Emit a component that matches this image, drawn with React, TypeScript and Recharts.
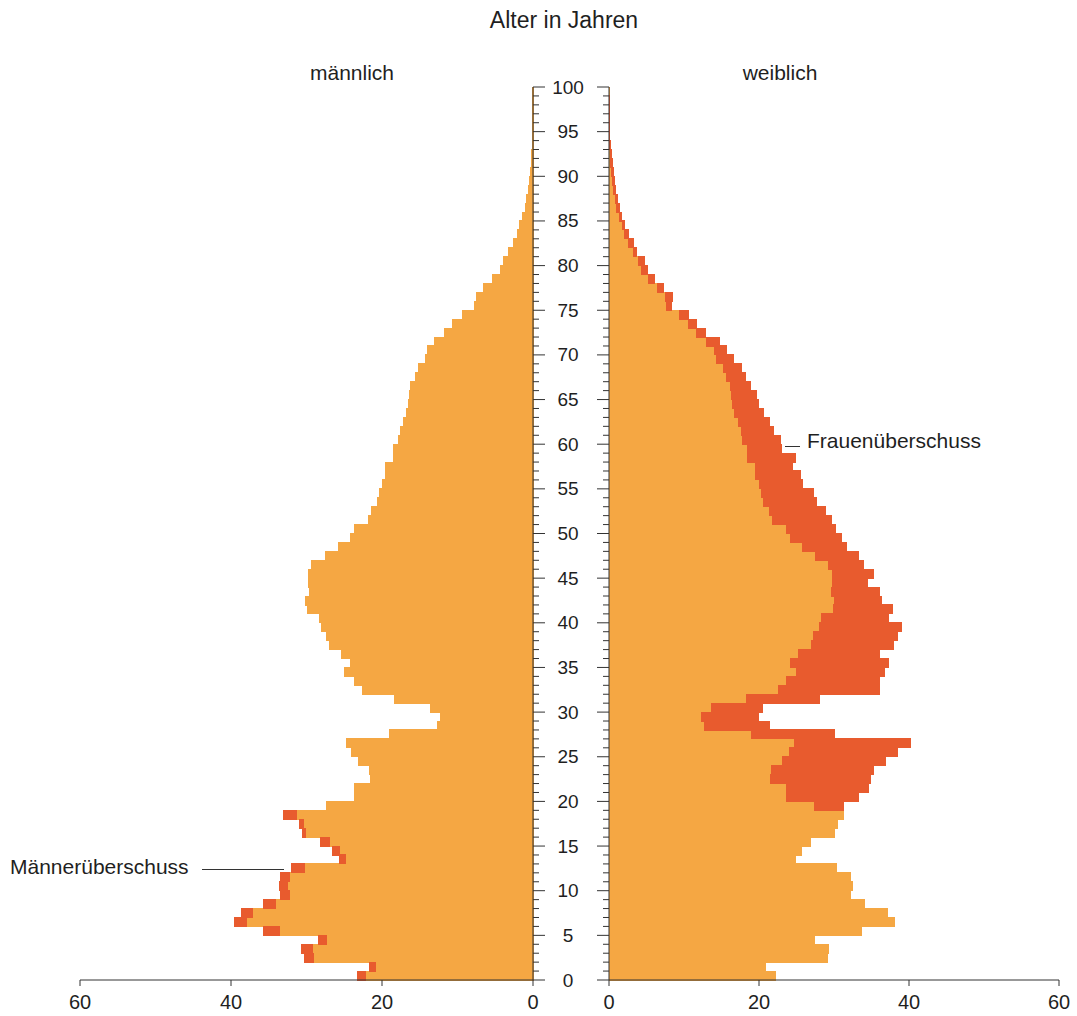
import { BarChart, Bar, XAxis, YAxis } from 'recharts';

// Altersaufbau: Bevölkerung je Altersjahr (in Tausend), 0 bis 99 Jahre
const ages = Array.from({ length: 100 }, (_, i) => i);

const male = [
  23.2, 21.6, 30.2, 30.6, 28.4, 35.7, 39.5, 38.6, 35.7, 33.4,
  33.6, 33.4, 32.0, 25.6, 26.5, 28.1, 30.5, 30.9, 33.1, 27.4,
  23.6, 23.6, 21.5, 21.6, 23.1, 24.0, 24.7, 19.0, 12.7, 12.3,
  13.6, 18.3, 22.6, 23.7, 25.0, 24.2, 25.3, 27.0, 27.3, 28.0,
  28.3, 29.9, 30.1, 29.6, 29.8, 29.8, 29.3, 27.5, 25.8, 24.2,
  23.7, 21.8, 21.4, 20.6, 20.3, 20.0, 19.5, 19.5, 18.5, 18.5,
  17.8, 17.6, 17.2, 16.7, 16.5, 16.3, 16.2, 15.6, 15.2, 14.3,
  14.0, 13.0, 11.7, 10.6, 9.4, 7.7, 7.5, 6.5, 5.3, 4.3,
  3.9, 3.2, 2.6, 2.1, 1.8, 1.4, 1.0, 0.8, 0.6, 0.45,
  0.3, 0.2, 0.14, 0.1, 0.06, 0.04, 0.03, 0.02, 0.01, 0.01,
];

const female = [
  22.2, 20.9, 29.1, 29.2, 27.4, 33.6, 38.0, 37.1, 34.1, 32.2,
  32.5, 32.2, 30.3, 24.9, 25.6, 26.9, 30.1, 30.4, 31.3, 31.3,
  33.2, 34.6, 34.8, 35.3, 36.9, 38.5, 40.2, 30.1, 21.4, 19.9,
  20.5, 28.0, 36.0, 36.1, 36.7, 37.2, 36.1, 37.9, 38.5, 39.0,
  37.2, 37.8, 36.3, 36.1, 34.5, 35.2, 33.9, 33.2, 31.7, 31.0,
  30.2, 29.6, 28.8, 27.7, 27.2, 25.8, 25.5, 24.4, 24.9, 23.0,
  22.8, 21.9, 21.4, 20.6, 19.9, 19.7, 18.8, 18.2, 17.6, 16.6,
  15.6, 14.7, 12.9, 11.6, 10.6, 8.3, 8.5, 7.3, 6.1, 5.1,
  4.7, 3.6, 3.2, 2.6, 2.0, 1.7, 1.4, 1.1, 0.9, 0.75,
  0.55, 0.4, 0.28, 0.2, 0.13, 0.09, 0.06, 0.04, 0.02, 0.01,
];

const xTicks = [0, 20, 40, 60];

// orange = Anteil beider Geschlechter, rot = Überschuss
const rows = ages.map((age, i) => {
  const base = Math.min(male[i], female[i]);
  return { age, base, maleExtra: male[i] - base, femaleExtra: female[i] - base };
});

const ORANGE = '#F5A743';
const RED = '#E85B2E';
const AXIS = '#333333';
const TEXT = '#1f1f1f';
const FONT = '"Liberation Sans", Arial, sans-serif';

const PLOT_TOP = 87;
const PLOT_BOTTOM = 980;
const STEP = (PLOT_BOTTOM - PLOT_TOP) / ages.length;

function leftTick(props: any) {
  const { x, y, payload } = props;
  const age = payload.value;
  const yb = y + STEP / 2;
  const major = age % 5 === 0;
  return (
    <g>
      <line x1={x} x2={x + (major ? 12 : 6)} y1={yb} y2={yb} stroke={AXIS} />
      {major && (
        <text x={x + 35} y={yb} textAnchor="middle" dominantBaseline="central"
          fontSize={19} fill={TEXT} fontFamily={FONT}>{age}</text>
      )}
      {age === ages.length - 1 && (
        <g>
          <line x1={x} x2={x + 12} y1={yb - STEP} y2={yb - STEP} stroke={AXIS} />
          <text x={x + 35} y={yb - STEP} textAnchor="middle" dominantBaseline="central"
            fontSize={19} fill={TEXT} fontFamily={FONT}>{age + 1}</text>
        </g>
      )}
    </g>
  );
}

function rightTick(props: any) {
  const { x, y, payload } = props;
  const age = payload.value;
  const yb = y + STEP / 2;
  const major = age % 5 === 0;
  return (
    <g>
      <line x1={x} x2={x - (major ? 12 : 6)} y1={yb} y2={yb} stroke={AXIS} />
      {age === ages.length - 1 && (
        <line x1={x} x2={x - 12} y1={yb - STEP} y2={yb - STEP} stroke={AXIS} />
      )}
    </g>
  );
}

const xTickStyle = { fontSize: 20, fill: TEXT, fontFamily: FONT };

export default function App() {
  return (
    <div style={{ position: 'absolute', left: 0, top: 0, width: 1077, height: 1016, background: '#fff' }}>
      <div style={{ position: 'absolute', left: 0, top: 0 }}>
        <BarChart layout="vertical" width={609} height={1016} data={rows}
          margin={{ top: PLOT_TOP, right: 0, bottom: 0, left: 80 }} barCategoryGap={0} barGap={0}>
          <XAxis type="number" domain={[0, 60]} ticks={xTicks} reversed interval={0}
            height={36} tickSize={6} tickMargin={9} stroke={AXIS} tick={xTickStyle} />
          <YAxis type="category" dataKey="age" orientation="right" reversed width={76}
            interval={0} tickLine={false} tickSize={0} tickMargin={0} stroke={AXIS} tick={leftTick} />
          <Bar dataKey="base" stackId="m" fill={ORANGE} stroke={ORANGE} strokeWidth={1}
            shapeRendering="crispEdges" isAnimationActive={false} />
          <Bar dataKey="maleExtra" stackId="m" fill={RED} stroke={RED} strokeWidth={1}
            shapeRendering="crispEdges" isAnimationActive={false} />
        </BarChart>
      </div>
      <div style={{ position: 'absolute', left: 533, top: 0 }}>
        <BarChart layout="vertical" width={544} height={1016} data={rows}
          margin={{ top: PLOT_TOP, right: 18, bottom: 0, left: 0 }} barCategoryGap={0} barGap={0}>
          <XAxis type="number" domain={[0, 60]} ticks={xTicks} interval={0}
            height={36} tickSize={6} tickMargin={9} stroke={AXIS} tick={xTickStyle} />
          <YAxis type="category" dataKey="age" orientation="left" reversed width={76}
            interval={0} tickLine={false} tickSize={0} tickMargin={0} stroke={AXIS} tick={rightTick} />
          <Bar dataKey="base" stackId="f" fill={ORANGE} stroke={ORANGE} strokeWidth={1}
            shapeRendering="crispEdges" isAnimationActive={false} />
          <Bar dataKey="femaleExtra" stackId="f" fill={RED} stroke={RED} strokeWidth={1}
            shapeRendering="crispEdges" isAnimationActive={false} />
        </BarChart>
      </div>
      <svg width={1077} height={1016} style={{ position: 'absolute', left: 0, top: 0, pointerEvents: 'none' }}
        fontFamily={FONT} fill={TEXT}>
        <text x={564} y={20} textAnchor="middle" dominantBaseline="central" fontSize={23}>Alter in Jahren</text>
        <text x={352} y={72} textAnchor="middle" dominantBaseline="central" fontSize={21}>männlich</text>
        <text x={780} y={72} textAnchor="middle" dominantBaseline="central" fontSize={21}>weiblich</text>
        <text x={10} y={866} dominantBaseline="central" fontSize={21}>Männerüberschuss</text>
        <line x1={202} x2={284} y1={869.5} y2={869.5} stroke={AXIS} />
        <text x={807} y={440} dominantBaseline="central" fontSize={21}>Frauenüberschuss</text>
        <line x1={785} x2={800} y1={446.5} y2={446.5} stroke={AXIS} />
      </svg>
    </div>
  );
}
